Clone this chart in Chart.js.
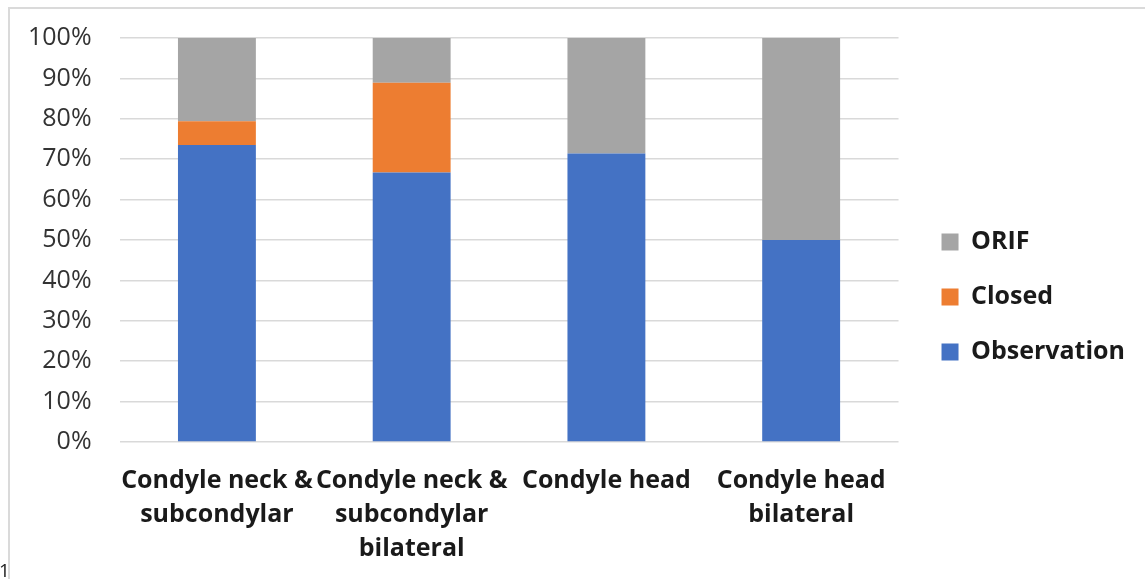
<!DOCTYPE html>
<html>
<head>
<meta charset="utf-8">
<script src="https://cdn.jsdelivr.net/npm/chart.js@4"></script>
<style>
  html, body { margin: 0; padding: 0; background: #fff; overflow: hidden; }
  #frame {
    position: absolute; left: 8px; top: 7px;
    width: 1200px; height: 700px;
    border: 2px solid #dadada;
  }
  #pageNo {
    position: absolute; left: -1px; top: 557px;
    font: 19px "Open Sans", sans-serif; color: #222;
  }
  #wrap { position: absolute; left: 0; top: 0; width: 1145px; height: 579px; }
</style>
</head>
<body>
<div id="frame"></div>
<div id="wrap"><canvas id="chart"></canvas></div>
<div id="pageNo">1</div>
<script>
// ─── Data ─────────────────────────────────────────────────────────────
const categories = [
    ['Condyle neck &', 'subcondylar'],
    ['Condyle neck &', 'subcondylar', 'bilateral'],
    'Condyle head',
    ['Condyle head', 'bilateral']
];
const observation = [73.5, 66.7, 71.4, 50];
const closed      = [5.9, 22.2, 0, 0];
const orif        = [20.6, 11.1, 28.6, 50];
const yTicks      = [0, 10, 20, 30, 40, 50, 60, 70, 80, 90, 100];

const FONT = '"Open Sans", sans-serif';

// nudge legend a little right and up, like the original
const legendShift = {
    id: 'legendShift',
    afterLayout(chart) {
        const lg = chart.legend;
        if (!lg) return;
        lg.left += 13;  lg.right += 13;
        lg.top -= 7;    lg.bottom -= 7;
    }
};

const ctx = document.getElementById('chart').getContext('2d');
new Chart(ctx, {
    type: 'bar',
    data: {
        labels: categories,
        datasets: [
            { label: 'Observation', data: observation, backgroundColor: '#4472C4' },
            { label: 'Closed',      data: closed,      backgroundColor: '#ED7D31' },
            { label: 'ORIF',        data: orif,        backgroundColor: '#A5A5A5' }
        ]
    },
    options: {
        responsive: true,
        maintainAspectRatio: false,
        animation: false,
        datasets: {
            bar: { categoryPercentage: 1, barPercentage: 0.4 }
        },
        layout: { padding: { left: 0, right: 23, top: 20, bottom: -9 } },
        plugins: {
            tooltip: { enabled: false },
            legend: {
                position: 'right',
                reverse: true,
                labels: {
                    boxWidth: 17,
                    boxHeight: 17,
                    padding: 30,
                    color: '#1a1a1a',
                    font: { family: FONT, size: 25, weight: 'bold' }
                }
            }
        },
        scales: {
            x: {
                stacked: true,
                grid: { display: false, drawTicks: false },
                border: { display: false },
                ticks: {
                    color: '#1a1a1a',
                    padding: 22,
                    maxRotation: 0,
                    autoSkip: false,
                    font: { family: FONT, size: 25, weight: 'bold', lineHeight: 1.36 }
                }
            },
            y: {
                stacked: true,
                min: 0,
                max: 100,
                afterBuildTicks: (axis) => { axis.ticks = yTicks.map(v => ({ value: v })); },
                grid: { color: '#d9d9d9', lineWidth: 1.5, drawTicks: false },
                border: { display: false },
                ticks: {
                    color: '#333333',
                    padding: 28,
                    font: { family: FONT, size: 25, lineHeight: 0.8 },
                    callback: (val) => val + '%'
                }
            }
        }
    },
    plugins: [legendShift]
});
</script>
</body>
</html>
